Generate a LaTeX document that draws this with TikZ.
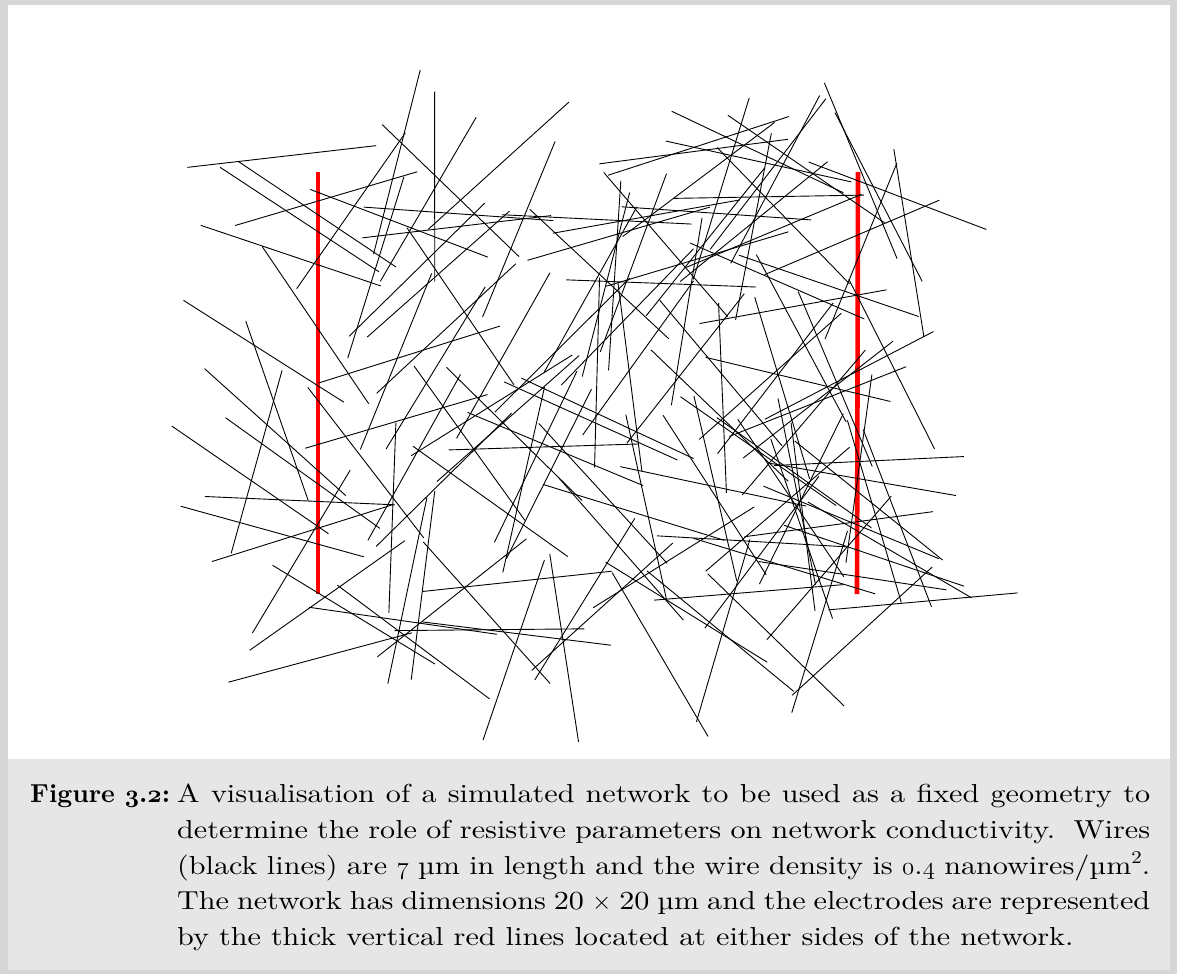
\documentclass[tikz,border=0pt]{standalone}
\usepackage{fontspec}
\setmainfont{lmroman10-regular.otf}[FakeStretch=1.16,BoldFont=lmroman10-bold.otf,BoldFeatures={FakeStretch=1.0}]
\usepackage{tikz}
\definecolor{framegray}{HTML}{D6D6D6}
\definecolor{capgray}{HTML}{E6E6E6}
\newcommand{\osn}[1]{{\usefont{OML}{cmm}{m}{it}#1}}
\newcommand{\osb}[1]{{\usefont{OML}{cmm}{b}{it}#1}}
\newcommand{\capline}[1]{\makebox[973pt][s]{#1}}
\newcommand{\sqsup}{\raisebox{0.42em}{\fontsize{18}{18}\selectfont 2}}

\begin{document}
\begin{tikzpicture}[
  x=1pt, y=-1pt,
  wire/.style={draw=black, line width=0.9pt},
  electrode/.style={draw=red, line width=4.6pt},
  caplabel/.style={anchor=base west, inner sep=0pt, font=\fontsize{26}{35.7}\selectfont\bfseries},
  captext/.style={anchor=north west, inner sep=0pt, align=left,
    font=\fontsize{26}{35.7}\selectfont}
]
\useasboundingbox (0,0) rectangle (1181,974);
\fill[framegray] (0,0) rectangle (1177,974);
\fill[white] (8,5) rectangle (1170,759);
\fill[capgray] (8,759) rectangle (1170,970);

\draw[electrode] (318,172) -- (318,594);
\draw[electrode] (858,172) -- (857,594);

\pgfmathsetseed{3202}
\foreach \w in {1,...,165}{
  \pgfmathsetmacro\cx{250+675*rnd}
  \pgfmathsetmacro\cy{125+535*rnd}
  \pgfmathsetmacro\ang{180*rnd}
  \draw[wire] (\cx,\cy) +(\ang:-95) -- +(\ang:95);
}

\node[caplabel] (figlabel) at (30,802) {Figure \osb{3}.\osb{2}:};
\node[captext] (caption) at (177,784) {\capline{A visualisation of a simulated network to be used as a fixed geometry to}\\
  \capline{determine the role of resistive parameters on network conductivity.\ \ Wires}\\
  \capline{(black lines) are \osn{7} µm in length and the wire density is \osn{0}.\osn{4} nanowires/µm\sqsup.}\\
  \capline{The network has dimensions 20~$\times$~20 µm and the electrodes are represented}\\
  by the thick vertical red lines located at either sides of the network.};
\end{tikzpicture}
\end{document}
